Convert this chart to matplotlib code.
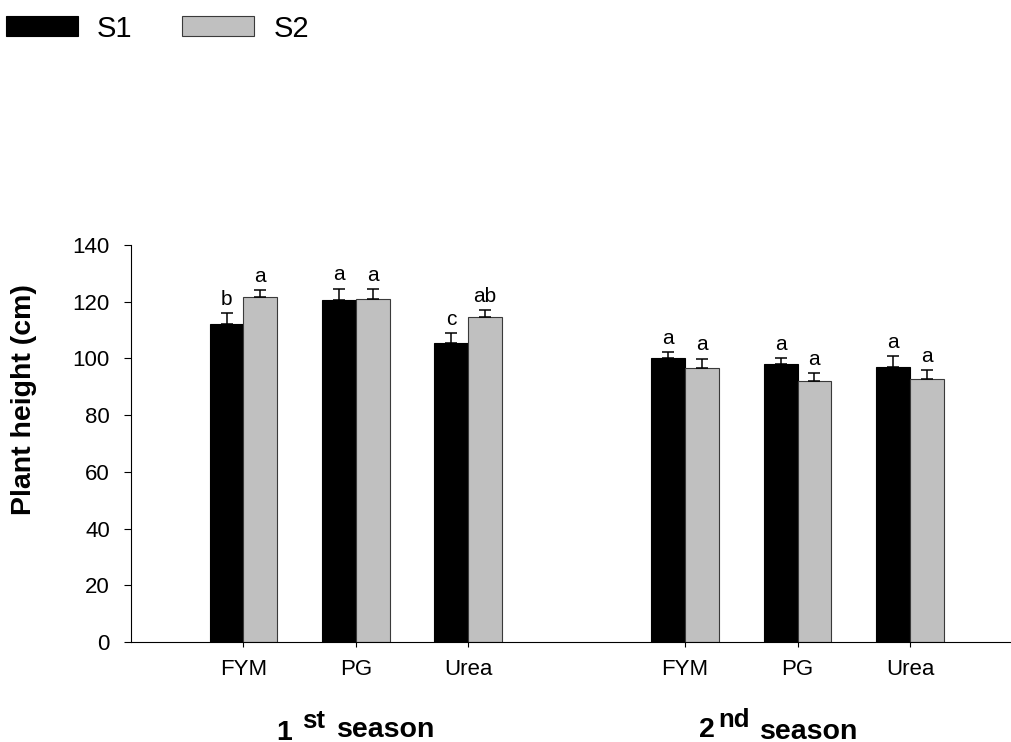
import numpy as np
import matplotlib.pyplot as plt

plt.rcParams['font.family'] = ['Liberation Sans', 'DejaVu Sans']

#%% Data

treatments = ['FYM', 'PG', 'Urea']

s1_mean = [112.1, 120.6, 105.4, 100.0, 98.1, 97.0]
s1_err = [3.8, 4.0, 3.4, 2.2, 1.9, 3.7]
s2_mean = [121.5, 120.9, 114.6, 96.7, 91.9, 92.6]
s2_err = [2.6, 3.5, 2.4, 3.2, 2.8, 3.3]

s1_letters = ['b', 'a', 'c', 'a', 'a', 'a']
s2_letters = ['a', 'a', 'ab', 'a', 'a', 'a']

#%% Layout

W = 0.3          # bar width
GAP = 3.93       # offset of the 2nd season group
xpos = np.r_[np.arange(1, 4), np.arange(1, 4) + GAP]

FW, FH = 1012, 742

fig = plt.figure(figsize=(FW / 100, FH / 100), dpi=100)
ax = fig.add_axes([131 / FW, 1 - 642 / FH, 879 / FW, 397 / FH])

b1 = ax.bar(xpos - W / 2, s1_mean, W, color='black', edgecolor='black', lw=0.8, label='S1')
b2 = ax.bar(xpos + W / 2, s2_mean, W, color='#c0c0c0', edgecolor='#3a3a3a', lw=0.8, label='S2')

zeros = np.zeros(len(xpos))
ax.errorbar(xpos - W / 2, s1_mean, yerr=[zeros, s1_err], fmt='none',
            ecolor='black', elinewidth=1.1, capsize=4.3, capthick=1.1)
ax.errorbar(xpos + W / 2, s2_mean, yerr=[zeros, s2_err], fmt='none',
            ecolor='black', elinewidth=1.1, capsize=4.3, capthick=1.1)

# significance letters above the error bars
for x, m, e, t in zip(xpos - W / 2, s1_mean, s1_err, s1_letters):
    ax.annotate(t, (x, m + e), xytext=(0, 6.1), textcoords='offset points',
                ha='center', va='baseline', fontsize=15)
for x, m, e, t in zip(xpos + W / 2, s2_mean, s2_err, s2_letters):
    ax.annotate(t, (x, m + e), xytext=(0, 6.1), textcoords='offset points',
                ha='center', va='baseline', fontsize=15)

ax.set_xlim(0, 7.82)
ax.set_ylim(0, 140)
ax.set_yticks(np.arange(0, 141, 20))
ax.set_xticks(xpos)
ax.set_xticklabels(treatments * 2)

for s in ['top', 'right']:
    ax.spines[s].set_visible(False)
ax.spines['left'].set_bounds(0, 140)
ax.spines['left'].set_linewidth(0.8)
ax.spines['bottom'].set_linewidth(0.8)

ax.tick_params(axis='y', length=5.4, width=0.8, pad=9.9, labelsize=16)
ax.tick_params(axis='x', length=3.6, width=0.8, pad=8.6, labelsize=16)

ax.set_ylabel('Plant height (cm)', fontsize=20.5, fontweight='bold')
ax.yaxis.set_label_coords(-0.107, 0.61)

# season labels under the groups
def ftext(x, y, s, size):
    fig.text(x / FW, 1 - y / FH, s, fontsize=size, fontweight='bold',
             ha='left', va='baseline')

ftext(276.7, 740, '1', 20.5)
ftext(301.7, 728, 'st', 18.5)
ftext(336.7, 737, 'season', 20.5)
ftext(699.3, 737, '2', 20.5)
ftext(718, 727, 'nd', 18.5)
ftext(760, 739, 'season', 20.5)

fig.legend([b1, b2], ['S1', 'S2'], loc='upper left', bbox_to_anchor=(6 / FW, 1 - 14.6 / FH),
           ncol=2, frameon=False, fontsize=21, handlelength=72 / 29.2,
           handleheight=20 / 29.2, handletextpad=19 / 29.2, columnspacing=50 / 29.2,
           borderpad=0, borderaxespad=0)

plt.savefig('out.png', dpi=100)
